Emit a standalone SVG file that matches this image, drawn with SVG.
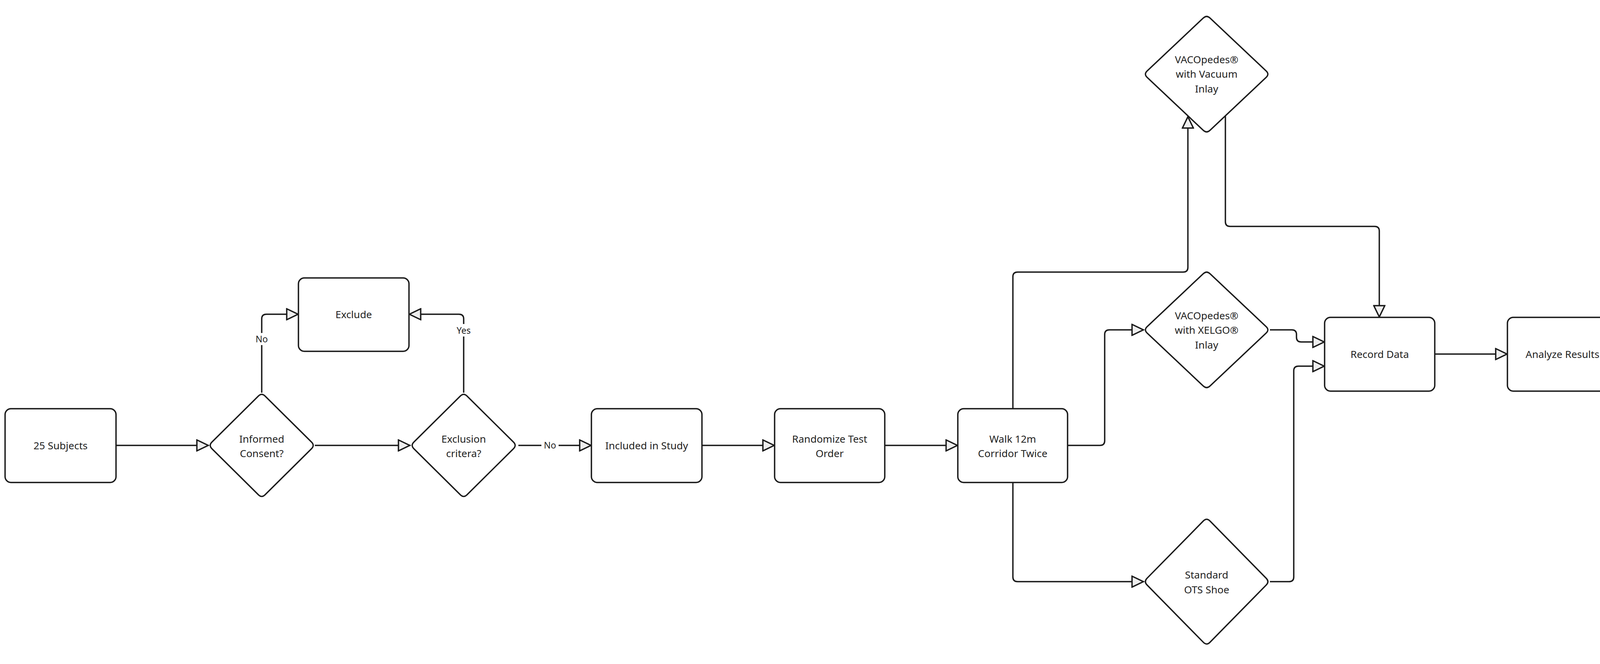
<svg xmlns="http://www.w3.org/2000/svg" width="4161" height="1701" viewBox="0 0 4161 1701">
<style>
.box{fill:#ffffff;stroke:#1a1a1a;stroke-width:3.5}
.dia{fill:#ffffff;stroke:#1a1a1a;stroke-width:3.5}
.t{font-family:"Noto Sans","Open Sans","DejaVu Sans",sans-serif;font-size:26px;fill:#222222;text-anchor:middle}
.lbl{font-family:"Noto Sans","Open Sans","DejaVu Sans",sans-serif;font-size:23px;fill:#222222;text-anchor:middle}
.c{fill:none;stroke:#1a1a1a;stroke-width:3.5;marker-end:url(#arr)}
.bg{fill:#ffffff}
</style>
<defs>
<marker id="arr" markerUnits="userSpaceOnUse" viewBox="0 0 40 32" refX="33" refY="16" markerWidth="40" markerHeight="32" orient="auto">
<path d="M3,2 L32,16 L3,30 Z" fill="#eeeeee" stroke="#1a1a1a" stroke-width="3.5"/>
</marker>
<path id="dSmall" d="M8.5,-126.5 L127.5,-8.5 Q136,0 127.5,8.5 L8.5,126.5 Q0,135 -8.5,126.5 L-127.5,8.5 Q-136,0 -127.5,-8.5 L-8.5,-126.5 Q0,-135 8.5,-126.5 Z"/>
<path id="dBig" d="M8.7,-143.8 L152.3,-8.2 Q161,0 152.3,8.2 L8.7,143.8 Q0,152 -8.7,143.8 L-152.3,8.2 Q-161,0 -152.3,-8.2 L-8.7,-143.8 Q0,-152 8.7,-143.8 Z"/>
<path id="dTall" d="M8.4,-155.4 L152.6,-8.6 Q161,0 152.6,8.6 L8.4,155.4 Q0,164 -8.4,155.4 L-152.6,8.6 Q-161,0 -152.6,-8.6 L-8.4,-155.4 Q0,-164 8.4,-155.4 Z"/>
</defs>
<rect width="4161" height="1701" fill="#ffffff"/>

<g id="connectors">
<path class="c" d="M297,1141 H534"/>
<path class="c" d="M806,1141 H1050"/>
<path class="c" d="M1327,1141 H1514"/>
<path class="c" d="M1797,1141 H1983"/>
<path class="c" d="M2265,1141 H2452"/>
<path class="c" d="M2593,1047 V709 Q2593,697 2605,697 H3029 Q3041,697 3041,685 V298"/>
<path class="c" d="M2733,1141 H2816 Q2828,1141 2828,1129 V857 Q2828,845 2840,845 H2928"/>
<path class="c" d="M2593,1236 V1478 Q2593,1490 2605,1490 H2928"/>
<path class="c" d="M670,1006 V817 Q670,805 682,805 H764"/>
<path class="c" d="M1187,1006 V817 Q1187,805 1175,805 H1047"/>
<path class="c" d="M3137,297 V568 Q3137,580 3149,580 H3519 Q3531,580 3531,592 V813"/>
<path class="c" d="M3251,845 H3307 Q3319,845 3319,857 V864 Q3319,876 3331,876 H3391"/>
<path class="c" d="M3251,1490 H3300 Q3312,1490 3312,1478 V950 Q3312,938 3324,938 H3391"/>
<path class="c" d="M3673,907 H3859"/>
<rect class="bg" x="1386" y="1125" width="44" height="32"/>
<text class="lbl" x="1408" y="1149">No</text>
<rect class="bg" x="648" y="853" width="44" height="31"/>
<text class="lbl" x="670" y="877">No</text>
<rect class="bg" x="1163" y="830" width="48" height="32"/>
<text class="lbl" x="1187" y="855">Yes</text>
</g>

<g id="n-subjects">
<rect class="box" x="13" y="1047" width="284" height="189" rx="15"/>
<text class="t" x="155" y="1151">25 Subjects</text>
</g>
<g id="n-consent" transform="translate(670,1141)">
<use href="#dSmall" class="dia"/>
<text class="t" x="0" y="-7">Informed</text>
<text class="t" x="0" y="30">Consent?</text>
</g>
<g id="n-exclusion" transform="translate(1187,1141)">
<use href="#dSmall" class="dia"/>
<text class="t" x="0" y="-7">Exclusion</text>
<text class="t" x="0" y="30">critera?</text>
</g>
<g id="n-exclude">
<rect class="box" x="764" y="712" width="283" height="188" rx="15"/>
<text class="t" x="905.5" y="815">Exclude</text>
</g>
<g id="n-included">
<rect class="box" x="1514" y="1047" width="283" height="189" rx="15"/>
<text class="t" x="1655.5" y="1151">Included in Study</text>
</g>
<g id="n-randomize">
<rect class="box" x="1983" y="1047" width="282" height="189" rx="15"/>
<text class="t" x="2124" y="1134">Randomize Test</text>
<text class="t" x="2124" y="1171">Order</text>
</g>
<g id="n-walk">
<rect class="box" x="2452" y="1047" width="281" height="189" rx="15"/>
<text class="t" x="2592.5" y="1134">Walk 12m</text>
<text class="t" x="2592.5" y="1171">Corridor Twice</text>
</g>
<g id="n-vacuum" transform="translate(3089,190)">
<use href="#dBig" class="dia"/>
<text class="t" x="0" y="-28">VACOpedes®</text>
<text class="t" x="0" y="9">with Vacuum</text>
<text class="t" x="0" y="47">Inlay</text>
</g>
<g id="n-xelgo" transform="translate(3089,845)">
<use href="#dBig" class="dia"/>
<text class="t" x="0" y="-27">VACOpedes®</text>
<text class="t" x="0" y="10">with XELGO®</text>
<text class="t" x="0" y="48">Inlay</text>
</g>
<g id="n-standard" transform="translate(3089,1490)">
<use href="#dTall" class="dia"/>
<text class="t" x="0" y="-8">Standard</text>
<text class="t" x="0" y="30">OTS Shoe</text>
</g>
<g id="n-record">
<rect class="box" x="3391" y="813" width="282" height="189" rx="15"/>
<text class="t" x="3532" y="917">Record Data</text>
</g>
<g id="n-analyze">
<rect class="box" x="3859" y="813" width="282" height="189" rx="15"/>
<text class="t" x="4000" y="917">Analyze Results</text>
</g>
</svg>
